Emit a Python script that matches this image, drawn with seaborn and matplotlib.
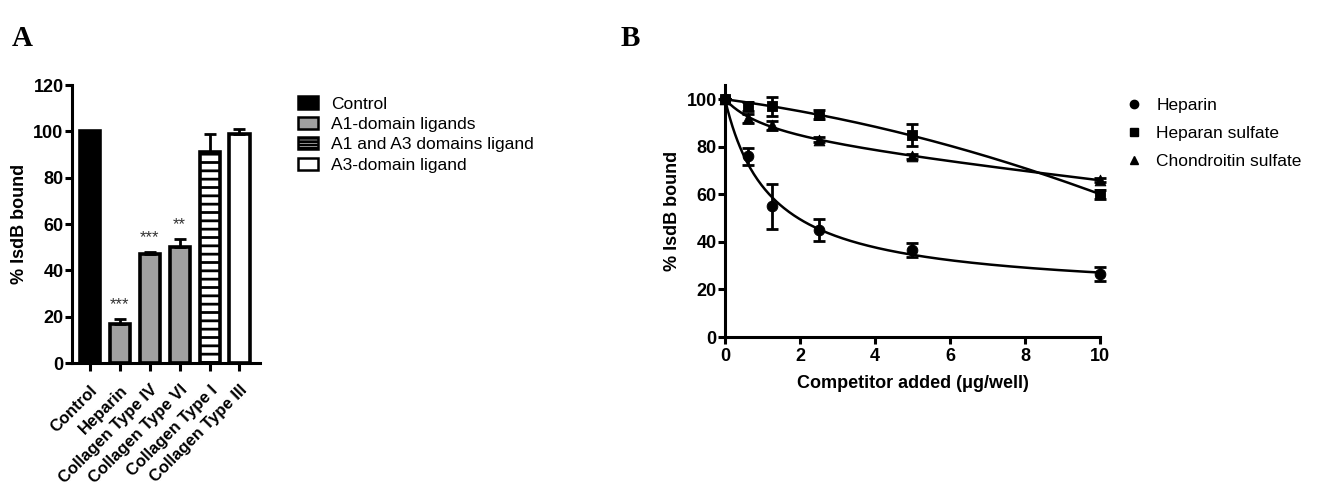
import numpy as np
import matplotlib
matplotlib.use("Agg")
import matplotlib.pyplot as plt
from matplotlib.patches import Patch
from matplotlib.lines import Line2D
import seaborn as sns

# Panel A data
bar_labels = ["Control", "Heparin", "Collagen Type IV", "Collagen Type VI",
              "Collagen Type I", "Collagen Type III"]
bar_values = [100, 17, 47, 50, 91, 99]
bar_errors = [0, 2, 1, 3.5, 8, 2]
bar_stars = ["", "***", "***", "**", "", ""]
bar_groups = ["Control", "A1-domain ligands", "A1-domain ligands", "A1-domain ligands",
              "A1 and A3 domains ligand", "A3-domain ligand"]

# Panel B data
conc = [0, 0.625, 1.25, 2.5, 5, 10]
heparin = [100, 76, 55, 45, 36.5, 26.5]
heparin_err = [0, 3.5, 9.5, 4.5, 3, 3]
heparan = [100, 97, 97, 93.5, 85, 60]
heparan_err = [0, 2, 4, 2, 4.5, 2]
chondroitin = [100, 92, 89, 83, 76, 66]
chondroitin_err = [0, 2, 2, 1, 1, 1]

sns.set_style("ticks")
plt.rcParams['font.family'] = ['Liberation Sans', 'DejaVu Sans']
plt.rcParams['hatch.linewidth'] = 2.0
for key in ['text.color', 'axes.labelcolor', 'xtick.color', 'ytick.color', 'axes.edgecolor']:
    plt.rcParams[key] = 'black'

fig = plt.figure(figsize=(13.31, 4.84), dpi=100)

# ---------- Panel A ----------
axA = fig.add_axes([0.054, 0.25, 0.141, 0.574])
group_colors = {"Control": "black", "A1-domain ligands": "#a0a0a0",
                "A1 and A3 domains ligand": "white", "A3-domain ligand": "white"}
group_hatch = {"Control": "", "A1-domain ligands": "",
               "A1 and A3 domains ligand": "--", "A3-domain ligand": ""}
pal = [group_colors[g] for g in bar_groups]
sns.barplot(x=bar_labels, y=bar_values, hue=bar_labels, palette=pal, legend=False,
            width=0.67, ax=axA, edgecolor="black", linewidth=2.6)
for p, g in zip(axA.patches, bar_groups):
    p.set_hatch(group_hatch[g])
    p.set_edgecolor("black")
xs = np.arange(len(bar_labels))
axA.errorbar(xs, bar_values, yerr=[np.zeros(len(xs)), bar_errors], fmt="none",
             ecolor="black", elinewidth=2, capsize=4, capthick=2, zorder=1)
for x, v, e, s in zip(xs, bar_values, bar_errors, bar_stars):
    if s:
        axA.text(x, v + e + 3, s, ha="center", va="bottom", fontsize=12, color="#333333")
axA.set_ylim(0, 120)
axA.set_xlim(-0.6, 5.67)
axA.set_yticks(range(0, 121, 20))
axA.set_xticks(xs)
axA.set_xticklabels(bar_labels, rotation=45, ha="right", rotation_mode="anchor",
                    fontweight="bold", fontsize=12)
axA.set_ylabel("% IsdB bound", fontweight="bold", fontsize=13, labelpad=4)
for lab in axA.get_yticklabels():
    lab.set_fontweight("bold")
    lab.set_fontsize(13)
sns.despine(ax=axA)
for sp in ["left", "bottom"]:
    axA.spines[sp].set_linewidth(2.2)
axA.tick_params(width=2.2, length=5, pad=1)
axA.tick_params(axis="x", length=6, pad=8)

legA_handles = []
for g in ["Control", "A1-domain ligands", "A1 and A3 domains ligand", "A3-domain ligand"]:
    legA_handles.append(Patch(facecolor=group_colors[g], edgecolor="black",
                              hatch="-----" if group_hatch[g] else "", linewidth=1.8, label=g))
fig.legend(handles=legA_handles, loc="upper left", bbox_to_anchor=(0.219, 0.815),
           frameon=False, fontsize=12.5, handlelength=1.1, handleheight=0.7,
           handletextpad=0.8, labelspacing=0.3, borderaxespad=0)

# ---------- Panel B ----------
axB = fig.add_axes([0.5447, 0.3037, 0.2817, 0.5207])


def fit_curve(x, y):
    # least squares fit of y = 100 - B*x/(K+x) - c*x over a grid of K
    x = np.asarray(x, float)
    y = np.asarray(y, float)
    best = None
    for k in np.geomspace(0.05, 500, 600):
        A = np.column_stack([x / (k + x), x])
        coef = np.linalg.lstsq(A, 100 - y, rcond=None)[0]
        sse = np.sum((A @ coef - (100 - y)) ** 2)
        if best is None or sse < best[0]:
            best = (sse, k, coef)
    _, k, coef = best
    xf = np.linspace(0, x.max(), 300)
    return xf, 100 - coef[0] * xf / (k + xf) - coef[1] * xf


series = [("Heparin", heparin, heparin_err, "o"),
          ("Heparan sulfate", heparan, heparan_err, "s"),
          ("Chondroitin sulfate", chondroitin, chondroitin_err, "^")]
for name, ys, es, m in series:
    xf, yf = fit_curve(conc, ys)
    sns.lineplot(x=xf, y=yf, ax=axB, color="black", linewidth=1.8, clip_on=False)
    axB.errorbar(conc, ys, yerr=es, fmt="none", ecolor="black", elinewidth=2,
                 capsize=4, capthick=2, clip_on=False)
    sns.scatterplot(x=conc, y=ys, marker=m, s=60, color="black", edgecolor="black",
                    ax=axB, clip_on=False, zorder=5)

axB.set_xlim(0, 10)
axB.set_ylim(0, 106)
axB.set_xticks(range(0, 11, 2))
axB.set_yticks(range(0, 101, 20))
axB.set_xlabel("Competitor added (\u03bcg/well)", fontweight="bold", fontsize=13, labelpad=7)
axB.set_ylabel("% IsdB bound", fontweight="bold", fontsize=13, labelpad=4)
for lab in axB.get_xticklabels() + axB.get_yticklabels():
    lab.set_fontweight("bold")
    lab.set_fontsize(13)
sns.despine(ax=axB)
for sp in ["left", "bottom"]:
    axB.spines[sp].set_linewidth(2.2)
axB.tick_params(width=2.2, length=5, pad=1)
axB.tick_params(axis="x", pad=3)

legB_handles = [Line2D([], [], marker=m, color="black", linestyle="none",
                       markersize=6, label=name) for name, _, _, m in series]
fig.legend(handles=legB_handles, loc="upper left", bbox_to_anchor=(0.840, 0.812),
           frameon=False, fontsize=12.5, handlelength=1.0, handletextpad=0.8,
           labelspacing=0.75, borderaxespad=0)

fig.text(0.009, 0.905, "A", fontsize=21, fontweight="bold", family="Liberation Serif")
fig.text(0.466, 0.905, "B", fontsize=21, fontweight="bold", family="Liberation Serif")

fig.savefig("out.png", dpi=100)
